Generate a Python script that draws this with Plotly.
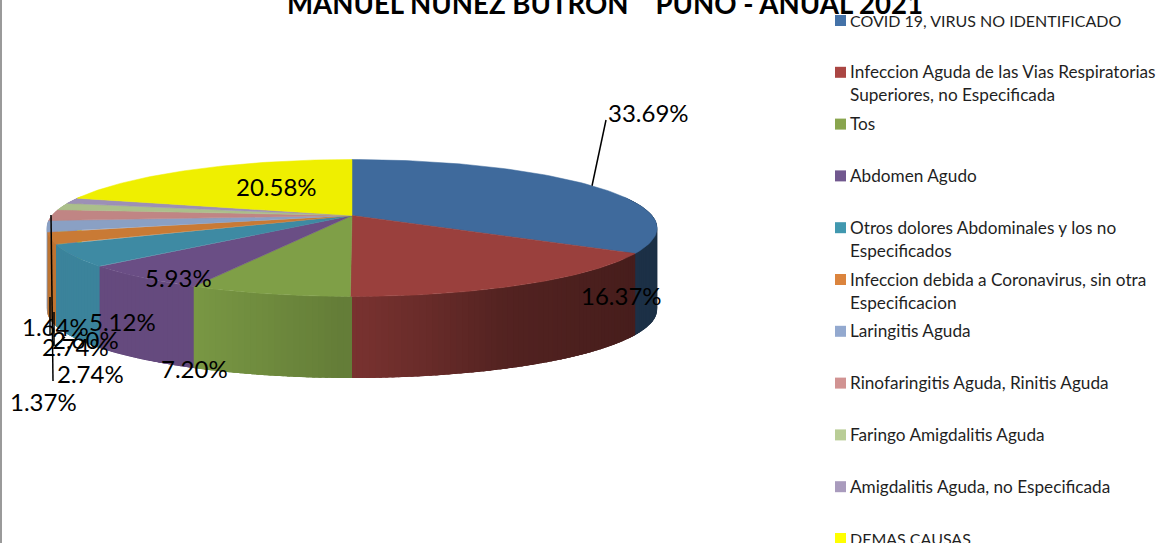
import numpy as np
import plotly.graph_objects as go

# ---- data ----
categories = [
    "COVID 19, VIRUS NO IDENTIFICADO",
    "Infeccion Aguda de las Vias Respiratorias<br>Superiores, no Especificada",
    "Tos",
    "Abdomen Agudo",
    "Otros dolores Abdominales y los no<br>Especificados",
    "Infeccion debida a Coronavirus, sin otra<br>Especificacion",
    "Laringitis Aguda",
    "Rinofaringitis Aguda, Rinitis Aguda",
    "Faringo Amigdalitis Aguda",
    "Amigdalitis Aguda, no Especificada",
    "DEMAS CAUSAS",
]
percent_values = [33.69, 16.37, 7.20, 5.93, 5.12, 2.74, 2.74, 2.60, 1.64, 1.37, 20.58]
top_colors = ["#3F6A9C", "#9A403D", "#7F9F47", "#6A4E85", "#3E8AA3", "#C97A35",
              "#8AA0C4", "#C08584", "#ABBF8B", "#9C90B6", "#EFEF00"]
legend_colors = ["#4472A8", "#AA4643", "#89A54E", "#71588F", "#4198AF", "#DB843D",
                 "#93A9CF", "#D19392", "#B9CD96", "#A99BBD", "#FFFF00"]
chart_title = "MANUEL NUÑEZ BUTRON\u00a0\u00a0\u00a0\u00a0PUNO - ANUAL 2021"

# label anchor (left x, centre y) for each slice, same order as the values
label_pos = [(606, 112), (579, 295), (159, 368), (143, 277), (87, 321), (40, 346),
             (55, 373), (50, 339), (20, 326), (8, 401), (234, 186)]

FONT = "Lato"
CX, CY, S, A, B, DEPTH = 352, 215.5, 300, 66.2, 0.1825, 81.5


def project(theta):
    """theta clockwise from twelve o'clock -> screen coordinates of the top rim"""
    X, Z = np.sin(theta), -np.cos(theta)
    d = 1 - B * Z
    return CX + S * X / d, CY + A * Z / d


def shade_of(x):
    return np.interp(x, [46, 200, 352, 420, 500, 640, 660],
                     [0.95, 0.95, 0.78, 0.68, 0.54, 0.45, 0.45])


def scaled(hexcol, f):
    rgb = [int(hexcol[i:i + 2], 16) for i in (1, 3, 5)]
    return "rgb(%d,%d,%d)" % tuple(int(round(c * f)) for c in rgb)


fig = go.Figure()
edges = np.concatenate([[0], np.cumsum(percent_values)]) / np.sum(percent_values) * 2 * np.pi

# rim wall, in thin strips so the shading can vary; painted from the back towards the viewer,
# each strip reaching a little under the next one so no seams show
strips = []
STEP = np.radians(1.0)
for i, col in enumerate(top_colors):
    th = np.append(np.arange(edges[i], edges[i + 1], STEP), edges[i + 1])
    for t0, t1 in zip(th[:-1], th[1:]):
        if np.cos((t0 + t1) / 2) > 0.3:
            continue
        strips.append((t0, t1, col))
strips.sort(key=lambda s: np.cos((s[0] + s[1]) / 2), reverse=True)
for t0, t1, col in strips:
    if (t0 + t1) / 2 < np.pi:
        t1 = min(t1 + 1.5 * STEP, np.pi)
    else:
        t0 = max(t0 - 1.5 * STEP, np.pi)
    arc = np.linspace(t0, t1, 4)
    x, y = project(arc)
    c = scaled(col, float(shade_of(x.mean())))
    fig.add_trace(go.Scatter(
        x=np.concatenate([x, x[::-1], x[:1]]),
        y=np.concatenate([y, y[::-1] + DEPTH, y[:1]]),
        mode="lines", fill="toself", fillcolor=c, line=dict(width=0),
        hoverinfo="skip", showlegend=False))

# top face
for i, col in enumerate(top_colors):
    th = np.linspace(edges[i], edges[i + 1], 80)
    x, y = project(th)
    fig.add_trace(go.Scatter(
        x=np.concatenate([[CX], x, [CX]]), y=np.concatenate([[CY], y, [CY]]),
        mode="lines", fill="toself", fillcolor=col, line=dict(color=col, width=0.5),
        name=categories[i].replace("<br>", " "), text=["%.2f%%" % percent_values[i]],
        hoverinfo="name", showlegend=False))

# leader lines
mid = (edges[0] + edges[1]) / 2
mx, my = project(mid)
leaders = [((float(mx), float(my)), (606, 120)),
           ((51, 215), (53, 381)), ((50, 297), (50, 335)),
           ((54, 312), (54, 346)), ((55, 346), (65, 337))]
for p, q in leaders:
    fig.add_trace(go.Scatter(x=[p[0], q[0]], y=[p[1], q[1]], mode="lines",
                             line=dict(color="#000000", width=1.5),
                             hoverinfo="skip", showlegend=False))

annotations = []
for v, (lx, ly) in zip(percent_values, label_pos):
    annotations.append(dict(x=lx, y=ly, xref="x", yref="y", xanchor="left", yanchor="middle",
                            text="%.2f%%" % v, showarrow=False,
                            font=dict(family=FONT, size=24, color="#000000")))

# legend: markers plus text, on the regular pitch of the original
LEG_Y0, LEG_PITCH, LINE_H = 20.5, 51.8, 23
ly = [LEG_Y0 + LEG_PITCH * i for i in range(len(categories))]
fig.add_trace(go.Scatter(x=[840.5] * len(categories), y=ly, mode="markers",
                         marker=dict(symbol="square", size=11, color=legend_colors, line=dict(width=0)),
                         hoverinfo="skip", showlegend=False))
for name, yy in zip(categories, ly):
    for k, part in enumerate(name.split("<br>")):
        size = 16 if part.isupper() else 17.2
        annotations.append(dict(x=848, y=yy - 0.5 + k * LINE_H, xref="x", yref="y", xanchor="left",
                                yanchor="middle", text=part, showarrow=False,
                                font=dict(family=FONT, size=size, color="#1f1f1f")))

annotations.append(dict(x=605, y=3, xref="x", yref="y", xanchor="center", yanchor="middle",
                        text="<b>%s</b>" % chart_title, showarrow=False,
                        font=dict(family=FONT, size=27.6, color="#000000")))

fig.update_layout(
    width=1161, height=543, autosize=False,
    margin=dict(l=0, r=0, t=0, b=0),
    paper_bgcolor="#ffffff", plot_bgcolor="#ffffff",
    xaxis=dict(range=[0, 1161], visible=False, fixedrange=True),
    yaxis=dict(range=[543, 0], visible=False, fixedrange=True),
    annotations=annotations,
    shapes=[dict(type="line", xref="x", yref="y", x0=1, x1=1, y0=0, y1=543,
                 line=dict(color="#9a9a9a", width=2))],
)
fig.write_html("out.html", config={"displayModeBar": False},
               post_script="document.body.style.margin='0';document.body.style.overflow='hidden';")
